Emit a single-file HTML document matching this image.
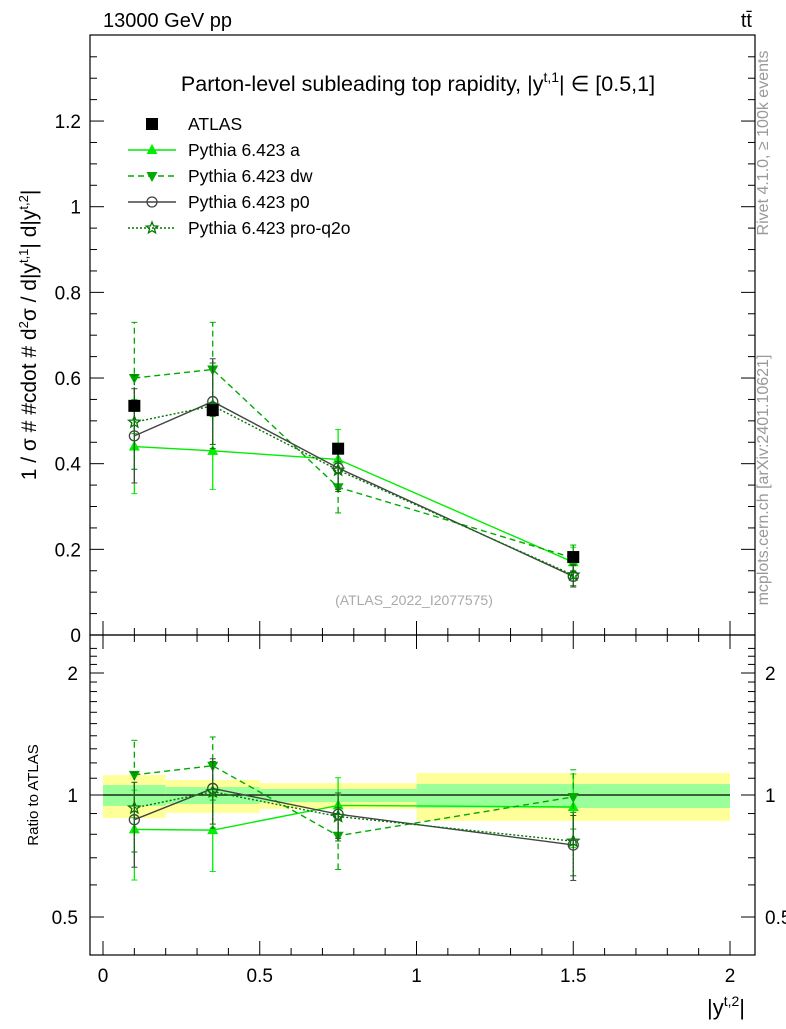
<!DOCTYPE html>
<html><head><meta charset="utf-8"><style>
body{margin:0;background:#fff;font-family:"Liberation Sans",sans-serif}
svg text{font-family:"Liberation Sans","DejaVu Sans",sans-serif}
</style></head><body>
<svg id="c" width="786" height="1024" viewBox="0 0 786 1024" xmlns="http://www.w3.org/2000/svg"></svg>
<script>
const xCenters=[0.1,0.35,0.75,1.5];
const binEdges=[0,0.2,0.5,1,2];
const atlas=[0.535,0.525,0.435,0.182];
const pyA=[0.44,0.43,0.41,0.17];
const pyAErr=[0.11,0.09,0.07,0.035];
const pyDW=[0.60,0.62,0.345,0.18];
const pyDWErr=[0.13,0.11,0.06,0.03];
const pyP0=[0.465,0.545,0.39,0.137];
const pyP0Err=[0.11,0.10,0.05,0.025];
const pyQ2O=[0.497,0.535,0.385,0.14];
const pyQ2OErr=[0.11,0.10,0.05,0.025];
const bandTotLo=[0.877,0.903,0.924,0.863];
const bandTotHi=[1.12,1.089,1.07,1.133];
const bandStatLo=[0.94,0.95,0.96,0.929];
const bandStatHi=[1.058,1.046,1.035,1.064];
const yTicks=[0,0.2,0.4,0.6,0.8,1,1.2];
const xTicks=[0,0.5,1,1.5,2];
const rTicks=[0.5,1,2];

const svg=document.getElementById('c');
const NS='http://www.w3.org/2000/svg';
function el(t,a,p){const e=document.createElementNS(NS,t);for(const k in a)e.setAttribute(k,a[k]);(p||svg).appendChild(e);return e;}
const L=90,R=755,T=35,MB=635,RB=955;
const X=v=>103+v*313.5;
const Y=v=>635-v*428.3;
const RY=r=>795-122*Math.log2(r);

binEdges.slice(0,-1).forEach((b,i)=>{
 let r=el('rect',{x:X(b),y:RY(bandTotHi[i]),width:X(binEdges[i+1])-X(b),height:RY(bandTotLo[i])-RY(bandTotHi[i]),fill:'#ffff99'});
 
 let g=el('rect',{x:X(b),y:RY(bandStatHi[i]),width:X(binEdges[i+1])-X(b),height:RY(bandStatLo[i])-RY(bandStatHi[i]),fill:'#99ff99'});
 
});
el('line',{x1:X(0),x2:X(2),y1:RY(1),y2:RY(1),stroke:'#000','stroke-width':1.2});

let f1=el('rect',{x:L,y:T,width:R-L,height:MB-T,fill:'none',stroke:'#000','stroke-width':1.2});

let f2=el('rect',{x:L,y:MB,width:R-L,height:RB-MB,fill:'none',stroke:'#000','stroke-width':1.2});


for(let v=0;v<=1.4;v+=0.05){const y=Y(v);if(y<T)break;const maj=Math.abs(v/0.2-Math.round(v/0.2))<1e-6;const l=maj?14:7;
 el('line',{x1:L,x2:L+l,y1:y,y2:y,stroke:'#000'});el('line',{x1:R,x2:R-l,y1:y,y2:y,stroke:'#000'});}
yTicks.forEach(v=>{const t=el('text',{x:81,y:Y(v)+7,'text-anchor':'end','font-size':19});t.textContent=String(v);
 });
for(let v=0;v<=2.0001;v+=0.1){const x=X(v);const maj=Math.abs(v/0.5-Math.round(v/0.5))<1e-6;const l=maj?14:7;
 el('line',{x1:x,x2:x,y1:MB,y2:MB-l,stroke:'#000'});el('line',{x1:x,x2:x,y1:MB,y2:MB+l,stroke:'#000'});
 el('line',{x1:x,x2:x,y1:RB,y2:RB-l,stroke:'#000'});}
xTicks.forEach(v=>{const t=el('text',{x:X(v),y:982,'text-anchor':'middle','font-size':19});t.textContent=String(v);
 });
for(let r=0.4;r<=2.31;r+=0.1){const y=RY(r);if(y<MB||y>RB)continue;const maj=rTicks.some(m=>Math.abs(m-r)<1e-6);const l=maj?14:7;
 el('line',{x1:L,x2:L+l,y1:y,y2:y,stroke:'#000'});el('line',{x1:R,x2:R-l,y1:y,y2:y,stroke:'#000'});}
rTicks.forEach(v=>{let t=el('text',{x:78,y:RY(v)+7,'text-anchor':'end','font-size':19});t.textContent=String(v);
 
 t=el('text',{x:765,y:RY(v)+7,'text-anchor':'start','font-size':19});t.textContent=String(v);
 });

function marker(g,type,x,y,color){
 if(type==='sq')el('rect',{x:x-6,y:y-6,width:12,height:12,fill:'#000'},g);
 else if(type==='up')el('polygon',{points:`${x},${y-6} ${x-5.5},${y+4} ${x+5.5},${y+4}`,fill:color},g);
 else if(type==='down')el('polygon',{points:`${x},${y+6} ${x-5.5},${y-4} ${x+5.5},${y-4}`,fill:color},g);
 else if(type==='circ')el('circle',{cx:x,cy:y,r:5,fill:'none',stroke:color,'stroke-width':1.3},g);
 else if(type==='star'){let p=[];for(let k=0;k<10;k++){const a=-Math.PI/2+k*Math.PI/5,rr=k%2?2.6:6;p.push((x+rr*Math.cos(a))+','+(y+rr*Math.sin(a)));}
  el('polygon',{points:p.join(' '),fill:'none',stroke:color,'stroke-width':1.3},g);}
}
const series=[
 {name:'pythia-a',vals:pyA,err:pyAErr,color:'#00ee00',dash:'',type:'up'},
 {name:'pythia-dw',vals:pyDW,err:pyDWErr,color:'#00aa00',dash:'6,4',type:'down'},
 {name:'pythia-p0',vals:pyP0,err:pyP0Err,color:'#444444',dash:'',type:'circ'},
 {name:'pythia-pro-q2o',vals:pyQ2O,err:pyQ2OErr,color:'#007700',dash:'2,2',type:'star'}];
series.forEach(s=>{
 [['main',Y,v=>v,e=>e],['ratio',RY,(v,i)=>v/atlas[i],(e,i)=>e/atlas[i]]].forEach(([pn,F,fv,fe])=>{
  const g=el('g',{});
  el('polyline',{points:xCenters.map((x,i)=>X(x)+','+F(fv(s.vals[i],i))).join(' '),fill:'none',stroke:s.color,'stroke-width':1.4,'stroke-dasharray':s.dash},g);
  xCenters.forEach((x,i)=>{const v=fv(s.vals[i],i),e=fe(s.err[i],i);
   const y1=F(Math.max(v-e,0.01)),y2=F(v+e);
   el('line',{x1:X(x),x2:X(x),y1:y1,y2:y2,stroke:s.color,'stroke-width':1.3,'stroke-dasharray':s.dash},g);
   el('line',{x1:X(x)-3,x2:X(x)+3,y1:y1,y2:y1,stroke:s.color},g);el('line',{x1:X(x)-3,x2:X(x)+3,y1:y2,y2:y2,stroke:s.color},g);
   marker(g,s.type,X(x),F(v),s.color);});
 });
});
const ga=el('g',{});
xCenters.forEach((x,i)=>marker(ga,'sq',X(x),Y(atlas[i]),'#000'));

const lg=el('g',{});
const legRows=[['ATLAS','sq','#000',null],['Pythia 6.423 a','up','#00ee00',''],['Pythia 6.423 dw','down','#00aa00','6,4'],['Pythia 6.423 p0','circ','#444','' ],['Pythia 6.423 pro-q2o','star','#007700','2,2']];
legRows.forEach((r,i)=>{const y=124+i*26;
 const g=el('g',{},lg);
 if(r[3]!==null)el('line',{x1:128,x2:176,y1:y,y2:y,stroke:r[2],'stroke-width':1.4,'stroke-dasharray':r[3]},g);
 marker(g,r[1],152,y,r[2]);
 const t=el('text',{x:188,y:y+6,'font-size':17.5},g);t.textContent=r[0];});

function txt(name,attrs,html){const t=el('text',attrs);t.innerHTML=html;return t;}
txt('title',{x:418,y:91,'text-anchor':'middle','font-size':21.5},'Parton-level subleading top rapidity, |y<tspan dy="-9" font-size="14">t,1</tspan><tspan dy="9">| ∈ [0.5,1]</tspan>');
txt('energy-label',{x:103,y:27,'font-size':20},'13000 GeV pp');
txt('process-label',{x:752,y:27,'text-anchor':'end','font-size':20},'tt̄');
txt('analysis-label',{x:414,y:605,'text-anchor':'middle','font-size':14,fill:'#aaa'},'(ATLAS_2022_I2077575)');
txt('x-axis-title',{x:745,y:1015,'text-anchor':'end','font-size':22},'|y<tspan dy="-9" font-size="14">t,2</tspan><tspan dy="9">|</tspan>');
txt('y-axis-title',{transform:'translate(36,335) rotate(-90)','text-anchor':'middle','font-size':21},'1 / σ # #cdot # d<tspan dy="-8" font-size="13">2</tspan><tspan dy="8">σ / d|y</tspan><tspan dy="-8" font-size="13">t,1</tspan><tspan dy="8">| d|y</tspan><tspan dy="-8" font-size="13">t,2</tspan><tspan dy="8">|</tspan>');
txt('ratio-axis-title',{transform:'translate(38,795) rotate(-90)','text-anchor':'middle','font-size':15},'Ratio to ATLAS');
txt('rivet-label',{transform:'translate(768,143) rotate(-90)','text-anchor':'middle','font-size':16,fill:'#999'},'Rivet 4.1.0, ≥ 100k events');
txt('mcplots-label',{transform:'translate(768,480) rotate(-90)','text-anchor':'middle','font-size':16,fill:'#999'},'mcplots.cern.ch [arXiv:2401.10621]');
</script>
</body></html>
